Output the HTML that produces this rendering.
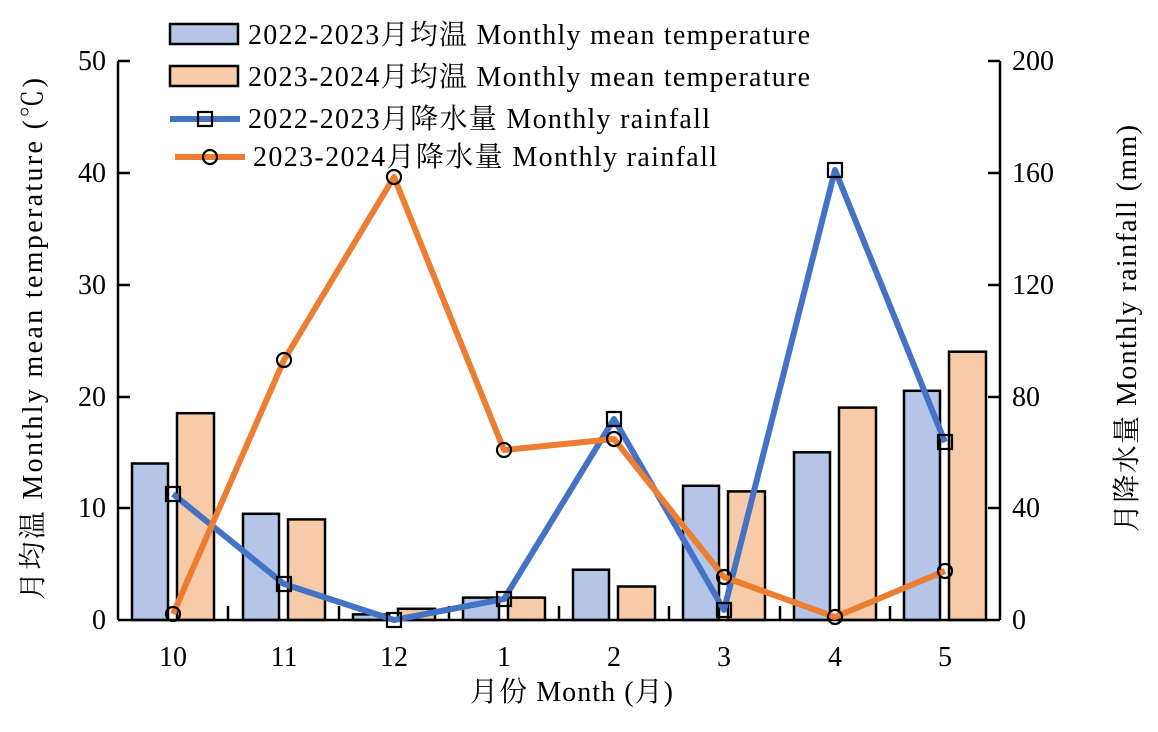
<!DOCTYPE html>
<html><head><meta charset="utf-8"><style>
body{margin:0;background:#fff}
svg text{font-family:"Liberation Serif","Noto Serif CJK SC",serif;fill:#000}
</style></head><body>
<svg width="1158" height="727" viewBox="0 0 1158 727" xmlns="http://www.w3.org/2000/svg">
<g id="bars" stroke="#000" stroke-width="2.5">
<rect x="132" y="463.5" width="36" height="156.5" fill="#b4c5e8"/>
<rect x="177" y="413.2" width="37" height="206.8" fill="#f7cba8"/>
<rect x="243" y="513.8" width="36" height="106.2" fill="#b4c5e8"/>
<rect x="288" y="519.4" width="37" height="100.6" fill="#f7cba8"/>
<rect x="353" y="614.4" width="36" height="5.6" fill="#b4c5e8"/>
<rect x="398" y="608.8" width="37" height="11.2" fill="#f7cba8"/>
<rect x="463" y="597.6" width="36" height="22.4" fill="#b4c5e8"/>
<rect x="508" y="597.6" width="37" height="22.4" fill="#f7cba8"/>
<rect x="573" y="569.7" width="36" height="50.3" fill="#b4c5e8"/>
<rect x="618" y="586.5" width="37" height="33.5" fill="#f7cba8"/>
<rect x="683" y="485.8" width="36" height="134.2" fill="#b4c5e8"/>
<rect x="728" y="491.4" width="37" height="128.6" fill="#f7cba8"/>
<rect x="794" y="452.3" width="36" height="167.7" fill="#b4c5e8"/>
<rect x="839" y="407.6" width="37" height="212.4" fill="#f7cba8"/>
<rect x="904" y="390.8" width="36" height="229.2" fill="#b4c5e8"/>
<rect x="949" y="351.7" width="37" height="268.3" fill="#f7cba8"/>
</g>
<g stroke="#000" stroke-width="2.5" fill="none">
<line x1="118" y1="61" x2="118" y2="620"/>
<line x1="1000" y1="61" x2="1000" y2="620"/>
<line x1="118" y1="620" x2="1000" y2="620"/>
<line x1="118" y1="61" x2="130" y2="61"/><line x1="118" y1="173" x2="130" y2="173"/><line x1="118" y1="285" x2="130" y2="285"/><line x1="118" y1="397" x2="130" y2="397"/><line x1="118" y1="508" x2="130" y2="508"/>
<line x1="988" y1="61" x2="1000" y2="61"/><line x1="988" y1="173" x2="1000" y2="173"/><line x1="988" y1="285" x2="1000" y2="285"/><line x1="988" y1="397" x2="1000" y2="397"/><line x1="988" y1="508" x2="1000" y2="508"/>
<line x1="228" y1="606" x2="228" y2="620"/><line x1="339" y1="606" x2="339" y2="620"/><line x1="449" y1="606" x2="449" y2="620"/><line x1="559" y1="606" x2="559" y2="620"/><line x1="669" y1="606" x2="669" y2="620"/><line x1="780" y1="606" x2="780" y2="620"/><line x1="890" y1="606" x2="890" y2="620"/>
</g>
<polyline points="173,494 284,584 394,620 504,599 614,419 724,610 835,170 945,442" fill="none" stroke="#4472c4" stroke-width="6" stroke-linejoin="round"/>
<polyline points="173,614 284,360 394,177 504,450 614,439 724,577 835,617 945,571" fill="none" stroke="#ed7d31" stroke-width="6" stroke-linejoin="round"/>
<g fill="none" stroke="#000" stroke-width="2.2">
<rect x="166" y="487" width="14" height="14"/><rect x="277" y="577" width="14" height="14"/><rect x="387" y="613" width="14" height="14"/><rect x="497" y="592" width="14" height="14"/><rect x="607" y="412" width="14" height="14"/><rect x="717" y="603" width="14" height="14"/><rect x="828" y="163" width="14" height="14"/><rect x="938" y="435" width="14" height="14"/>
<circle cx="173" cy="614" r="7"/><circle cx="284" cy="360" r="7"/><circle cx="394" cy="177" r="7"/><circle cx="504" cy="450" r="7"/><circle cx="614" cy="439" r="7"/><circle cx="724" cy="577" r="7"/><circle cx="835" cy="617" r="7"/><circle cx="945" cy="571" r="7"/>
</g>
<g font-size="28">
<text x="106" y="70" text-anchor="end">50</text><text x="106" y="182" text-anchor="end">40</text><text x="106" y="294" text-anchor="end">30</text><text x="106" y="406" text-anchor="end">20</text><text x="106" y="517" text-anchor="end">10</text><text x="106" y="629" text-anchor="end">0</text>
<text x="1012" y="70">200</text><text x="1012" y="182">160</text><text x="1012" y="294">120</text><text x="1012" y="406">80</text><text x="1012" y="517">40</text><text x="1012" y="629">0</text>
<g text-anchor="middle"><text x="173" y="666">10</text><text x="284" y="666">11</text><text x="394" y="666">12</text><text x="504" y="666">1</text><text x="614" y="666">2</text><text x="724" y="666">3</text><text x="835" y="666">4</text><text x="945" y="666">5</text></g>
<text x="470" y="701" textLength="203">月份 Month (月)</text>
<text transform="translate(42,600) rotate(-90)" textLength="522">月均温 Monthly mean temperature (℃)</text>
<text transform="translate(1136,532) rotate(-90)" textLength="407">月降水量 Monthly rainfall (mm)</text>
</g>
<g font-size="28">
<rect x="170" y="24" width="68" height="20" fill="#b4c5e8" stroke="#000" stroke-width="2.5"/>
<text x="248" y="44" textLength="562">2022-2023月均温 Monthly mean temperature</text>
<rect x="170" y="66" width="68" height="20" fill="#f7cba8" stroke="#000" stroke-width="2.5"/>
<text x="248" y="86" textLength="562">2023-2024月均温 Monthly mean temperature</text>
<line x1="170" y1="119" x2="240" y2="119" stroke="#4472c4" stroke-width="6"/>
<rect x="198" y="112" width="14" height="14" fill="none" stroke="#000" stroke-width="2.2"/>
<text x="248" y="128" textLength="462">2022-2023月降水量 Monthly rainfall</text>
<line x1="175" y1="157" x2="245" y2="157" stroke="#ed7d31" stroke-width="6"/>
<circle cx="210" cy="157" r="7" fill="none" stroke="#000" stroke-width="2.2"/>
<text x="253" y="166" textLength="464">2023-2024月降水量 Monthly rainfall</text>
</g>
</svg>
</body></html>
